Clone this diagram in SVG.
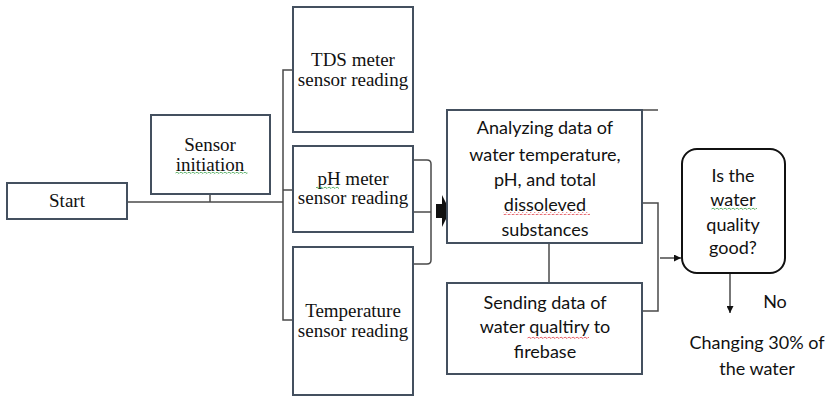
<svg xmlns="http://www.w3.org/2000/svg" width="827" height="396" viewBox="0 0 827 396">
  <style>
    .box { fill: #ffffff; stroke: #44505f; stroke-width: 2; }
    .dec { fill: #ffffff; stroke: #111111; stroke-width: 2; }
    .ln { fill: none; stroke: #4a4a4a; stroke-width: 1.5; }
    .serif { font-family: "Liberation Serif", "Times New Roman", serif; font-size: 19px; fill: #111111; text-anchor: middle; }
    .sans { font-family: Lato, "Open Sans", "Liberation Sans", sans-serif; font-size: 18px; fill: #111111; text-anchor: middle; }
  </style>
  <defs>
    <marker id="arr" viewBox="0 0 10 10" refX="10" refY="5" markerWidth="7" markerHeight="7" markerUnits="userSpaceOnUse" orient="auto">
      <path d="M0,0 L10,5 L0,10 Z" fill="#111111"/>
    </marker>
    <pattern id="sqGreen" width="4" height="3" patternUnits="userSpaceOnUse">
      <path d="M0,2 L1,1 L3,2.5 L4,1.5" fill="none" stroke="#3aa14a" stroke-width="0.8"/>
    </pattern>
    <pattern id="sqRed" width="4" height="3" patternUnits="userSpaceOnUse">
      <path d="M0,2 L1,1 L3,2.5 L4,1.5" fill="none" stroke="#e0404a" stroke-width="0.8"/>
    </pattern>
  </defs>

  <!-- connectors -->
  <g id="connectors">
    <!-- start to sensor bus -->
    <path class="ln" d="M127,202 H283"/>
    <path class="ln" d="M210,194 V202"/>
    <!-- sensor bus fan-out -->
    <path class="ln" d="M293,70 H283 V320 H293"/>
    <path class="ln" d="M283,190 H293"/>
    <!-- bracket joining sensor readings -->
    <path class="ln" d="M413,160 H427 Q431,160 431,164 V260 Q431,264 427,264 H413"/>
    <path class="ln" d="M413,212 H431"/>
    <!-- block arrow into analysis -->
    <polygon points="436,204 442,204 442,195 450,211 442,227 442,218 436,218" fill="#111111"/>
    <!-- analysis to sending -->
    <path class="ln" d="M549,243 V283"/>
    <path class="ln" d="M642,110 H658"/>
    <!-- bracket to decision -->
    <path class="ln" d="M642,203 H658 V311 H642"/>
    <path class="ln" d="M660,258 H681" marker-end="url(#arr)"/>
    <!-- decision "No" branch -->
    <path class="ln" d="M730,273 V313" marker-end="url(#arr)"/>
  </g>

  <g id="start">
    <rect class="box" x="7" y="183" width="120" height="36"/>
    <text class="serif" x="67" y="207">Start</text>
  </g>

  <g id="sensor-initiation">
    <rect class="box" x="151" y="115" width="119" height="79"/>
    <text class="serif" x="210" y="151">Sensor</text>
    <text class="serif" x="210" y="171">initiation</text>
    <rect x="175" y="172" width="73" height="3" fill="url(#sqGreen)"/>
  </g>

  <g id="tds-reading">
    <rect class="box" x="293" y="7" width="120" height="125"/>
    <text class="serif" x="353" y="66">TDS meter</text>
    <text class="serif" x="353" y="86">sensor reading</text>
  </g>

  <g id="ph-reading">
    <rect class="box" x="293" y="146" width="120" height="86"/>
    <text class="serif" x="353" y="185">pH meter</text>
    <text class="serif" x="353" y="204">sensor reading</text>
    <rect x="316" y="186" width="23" height="3" fill="url(#sqGreen)"/>
  </g>

  <g id="temperature-reading">
    <rect class="box" x="293" y="247" width="120" height="148"/>
    <text class="serif" x="353" y="317">Temperature</text>
    <text class="serif" x="353" y="337">sensor reading</text>
  </g>

  <g id="analyzing">
    <rect class="box" x="447" y="110" width="195" height="133"/>
    <text class="sans" x="545" y="134">Analyzing data of</text>
    <text class="sans" x="545" y="161">water temperature,</text>
    <text class="sans" x="545" y="186">pH, and total</text>
    <text class="sans" x="545" y="211">dissoleved</text>
    <text class="sans" x="545" y="236">substances</text>
    <rect x="503" y="212" width="87" height="3" fill="url(#sqRed)"/>
  </g>

  <g id="sending">
    <rect class="box" x="447" y="283" width="195" height="91"/>
    <text class="sans" x="545" y="309">Sending data of</text>
    <text class="sans" x="545" y="333">water qualtiry to</text>
    <text class="sans" x="545" y="358">firebase</text>
    <rect x="527" y="336" width="62" height="3" fill="url(#sqRed)"/>
  </g>

  <g id="decision">
    <rect class="dec" x="682" y="149" width="103" height="124" rx="15" ry="15"/>
    <text class="sans" x="733" y="182">Is the</text>
    <text class="sans" x="733" y="206">water</text>
    <text class="sans" x="733" y="231">quality</text>
    <text class="sans" x="733" y="254">good?</text>
    <rect x="711" y="207" width="46" height="3" fill="url(#sqGreen)"/>
  </g>

  <g id="no-label">
    <text class="sans" x="775" y="308">No</text>
  </g>

  <g id="change-water">
    <text class="sans" x="757" y="349">Changing 30% of</text>
    <text class="sans" x="757" y="375">the water</text>
  </g>
</svg>
